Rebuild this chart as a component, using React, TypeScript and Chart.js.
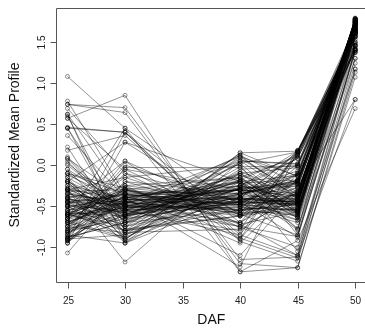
import { useEffect, useRef } from "react";
import { Chart, registerables } from "chart.js";

Chart.register(...registerables);

// Days after flowering at which the profiles were measured
const dafDays = [25, 30, 40, 45, 50];
const xTickValues = [25, 30, 35, 40, 45, 50];
const yTickValues = [-1.0, -0.5, 0.0, 0.5, 1.0, 1.5];
const yTickLabels = ["-1.0", "-0.5", "0.0", "0.5", "1.0", "1.5"];
const xTitle = "DAF";
const yTitle = "Standardized Mean Profile";

// Standardized profile value of each gene (row i across the arrays) at each DAF
const daf25 = [
  -0.45, -0.6, -0.3, -0.55, -0.65, -0.4, -0.2, -0.7, -0.48, -0.35,
  -0.55, -0.75, -0.25, -0.5, -0.62, -0.38, -0.8, -0.15, -0.45, -0.52,
  -0.68, -0.3, -0.58, -0.42, -0.85, -0.1, -0.5, -0.72, -0.35, -0.6,
  -0.28, -0.78, -0.45, -0.62, -0.05, -0.55, -0.9, -0.32, -0.48, -0.7,
  0.05, -0.9, -0.8, -0.2, -0.95, 0.0, -0.6, -0.85, -0.12, -0.7,
  -0.92, 0.08, -0.4, -0.75, -0.3, -0.82, -0.05, -0.65, -0.88, -0.25,
  -0.58, 0.02, -0.95, -0.45, -0.7, -0.15, -0.82, -0.35, -0.6, -0.1,
  -0.88, -0.5, -0.75, -0.22, -0.92, -0.4, 0.1, -0.65, -0.8, -0.3,
  0.45, -0.9, 0.6, -0.85, 0.36, -0.95, -0.6, 0.22, -0.78, 0.45,
  -0.3, -0.92, 0.18, -0.88, 0.08, -0.65, -0.5, 0.62, -1.07, -0.2,
  1.08, 0.78, 0.74, 0.57, 0.46, 0.69, 0.45, 0.62, 0.57, 0.74,
  -0.42, -0.5, -0.38, -0.46, -0.55, -0.33, -0.6, -0.44, -0.28, -0.66,
  -0.4, -0.58, -0.74, -0.2, -0.82, -0.1, -0.68, -0.9, -0.62, -0.18,
];
const daf30 = [
  -0.48, -0.5, -0.55, -0.4, -0.45, -0.6, -0.5, -0.38, -0.7, -0.45,
  -0.3, -0.5, -0.62, -0.55, -0.28, -0.42, -0.45, -0.55, -0.75, -0.35,
  -0.55, -0.4, -0.62, -0.5, -0.32, -0.55, -0.8, -0.38, -0.48, -0.25,
  -0.65, -0.6, -0.35, -0.52, -0.5, -0.72, -0.4, -0.3, -0.58, -0.42,
  -0.7, -0.85, 0.0, -0.9, -0.35, -0.55, -0.8, -0.2, -0.45, -0.9,
  -0.6, -0.65, -0.25, -0.05, -0.95, -0.48, -0.78, -0.3, -0.7, -0.4,
  -0.85, -0.5, -0.2, -0.62, -0.45, -0.92, -0.1, -0.55, -0.75, -0.35,
  -0.55, 0.05, -0.82, -0.68, -0.42, -0.8, -0.6, -0.3, -0.65, -0.15,
  -0.8, 0.4, -0.75, -0.95, -0.4, 0.28, -0.55, -0.85, 0.05, -0.62,
  -1.18, -0.45, 0.36, -0.7, -0.4, 0.45, -0.91, -0.38, -0.25, 0.28,
  0.45, -0.35, 0.64, 0.85, 0.4, -0.1, 0.4, -0.95, -0.05, 0.7,
  -0.45, -0.42, -0.52, -0.36, -0.46, -0.5, -0.33, -0.58, -0.46, -0.52,
  -0.66, -0.4, -0.3, -0.6, -0.62, -0.28, -0.88, -0.03, -0.15, -0.82,
];
const daf40 = [
  -0.4, -0.3, -0.45, -0.35, -0.25, -0.5, -0.52, -0.3, -0.35, -0.62,
  -0.55, -0.28, -0.4, -0.18, -0.4, -0.3, -0.3, -0.48, -0.28, -0.6,
  -0.12, -0.55, -0.35, -0.2, -0.35, -0.52, -0.32, -0.25, -0.7, -0.42,
  -0.15, -0.2, -0.48, -0.45, -0.55, -0.08, -0.22, -0.62, -0.3, -0.48,
  -0.55, 0.05, -0.45, -0.1, -0.3, -0.8, 0.1, -0.6, -0.3, -0.05,
  -0.1, -0.45, -0.9, -0.3, -0.4, 0.05, -0.62, -0.15, -0.18, -0.2,
  -0.28, -0.75, -0.35, 0.02, -0.58, -0.35, -0.45, -0.85, 0.08, -0.48,
  -0.25, -0.58, -0.02, -0.1, -0.4, -0.55, -0.4, -0.7, 0.12, -0.6,
  -0.62, -0.7, -0.45, 0.15, -1.1, -0.2, 0.12, -0.4, -0.9, -0.2,
  0.05, 0.1, -0.85, 0.02, -1.24, -0.5, 0.15, -0.75, -0.15, -0.6,
  -1.3, -0.95, -1.2, -1.3, -0.93, -0.76, -0.89, -0.2, -0.72, -1.15,
  -0.45, -0.42, -0.48, -0.5, -0.38, -0.44, -0.42, -0.3, -0.55, -0.36,
  -0.44, -0.16, -0.46, -0.25, -0.4, -0.72, -0.26, -0.03, 0.0, -0.78,
];
const daf45 = [
  -0.45, -0.38, -0.48, -0.47, -0.42, -0.27, -0.54, -0.38, -0.23, -0.34,
  -0.35, -0.22, -0.48, -0.52, -0.45, -0.64, -0.19, -0.56, -0.26, -0.27,
  -0.38, -0.48, -0.18, -0.61, -0.21, -0.55, -0.1, -0.37, -0.19, -0.45,
  -0.63, -0.13, -0.43, -0.12, -0.61, -0.35, -0.18, -0.46, -0.34, -0.1,
  -0.48, 0.02, -0.43, -0.47, -0.07, -0.32, -0.36, -0.01, -0.79, -0.01,
  -0.03, -0.63, -0.1, -0.55, 0.01, -0.39, -0.19, -0.54, 0.12, -0.78,
  0.08, -0.4, -0.12, -0.57, 0.11, -0.19, -0.24, 0.14, -0.33, -0.67,
  0.08, -0.57, -0.01, -0.58, 0.16, 0.18, -0.67, 0.12, -0.23, -0.51,
  -0.53, -0.3, -0.88, 0.17, -0.32, -0.59, -0.42, -0.42, 0.18, -1.05,
  0.01, -0.13, -1.1, 0.16, 0.17, -0.7, -0.14, -0.87, 0.1, -0.85,
  -0.92, -0.28, -1.25, -1.25, -1.17, -1.0, -1.13, -0.77, -1.1, -1.12,
  -0.47, -0.45, -0.4, -0.46, -0.38, -0.49, -0.4, -0.43, -0.45, -0.19,
  -0.22, -0.57, -0.2, -0.64, 0.15, -0.57, 0.17, -0.6, -0.85, 0.16,
];
const daf50 = [
  1.78, 1.78, 1.78, 1.77, 1.77, 1.77, 1.76, 1.76, 1.76, 1.76,
  1.75, 1.75, 1.75, 1.75, 1.75, 1.74, 1.74, 1.74, 1.74, 1.74,
  1.73, 1.73, 1.73, 1.73, 1.73, 1.72, 1.72, 1.72, 1.72, 1.72,
  1.71, 1.71, 1.71, 1.71, 1.71, 1.7, 1.7, 1.7, 1.7, 1.7,
  1.68, 1.68, 1.68, 1.67, 1.67, 1.67, 1.66, 1.66, 1.66, 1.66,
  1.65, 1.65, 1.65, 1.65, 1.64, 1.64, 1.64, 1.64, 1.64, 1.63,
  1.63, 1.63, 1.62, 1.62, 1.62, 1.61, 1.61, 1.61, 1.6, 1.6,
  1.6, 1.6, 1.6, 1.58, 1.58, 1.57, 1.57, 1.53, 1.56, 1.56,
  1.5, 1.5, 1.48, 1.48, 1.46, 1.46, 1.45, 1.45, 1.45, 1.42,
  1.42, 1.4, 1.41, 1.4, 1.39, 1.4, 1.4, 1.38, 1.37, 1.37,
  0.69, 0.8, 1.07, 1.13, 1.24, 1.17, 1.17, 1.3, 1.3, 0.8,
  1.79, 1.79, 1.78, 1.78, 1.77, 1.76, 1.75, 1.75, 1.74, 1.73,
  1.72, 1.71, 1.7, 1.69, 1.69, 1.67, 1.65, 1.56, 1.62, 1.62,
];

const FONT = '"Liberation Sans", Arial, Helvetica, sans-serif';

export default function App() {
  const canvasRef = useRef<HTMLCanvasElement | null>(null);

  useEffect(() => {
    const canvas = canvasRef.current;
    if (!canvas) return;
    const columns = [daf25, daf30, daf40, daf45, daf50];
    const datasets = daf25.map((_, i) => ({
      label: `gene ${i + 1}`,
      data: dafDays.map((d, j) => ({ x: d, y: columns[j][i] })),
      borderColor: "rgba(0,0,0,0.72)",
      borderWidth: 0.6,
      pointRadius: 2,
      pointBorderWidth: 0.6,
      pointBorderColor: "rgba(0,0,0,0.75)",
      pointBackgroundColor: "rgba(0,0,0,0)",
      pointStyle: "circle" as const,
      tension: 0,
      fill: false,
    }));

    const rAxes = {
      id: "rAxes",
      afterDraw(chart: any) {
        const { ctx, chartArea: a, scales } = chart;
        const xs = scales.x;
        const ys = scales.y;
        const L = Math.round(a.left) + 0.5;
        const T = Math.round(a.top) + 0.5;
        const B = Math.round(a.bottom) + 0.5;
        const R = Math.round(a.right) + 0.5;
        ctx.save();
        ctx.strokeStyle = "#555";
        ctx.lineWidth = 1;
        ctx.beginPath();
        ctx.moveTo(R, T);
        ctx.lineTo(L, T);
        ctx.lineTo(L, B);
        ctx.lineTo(R, B);
        ctx.stroke();

        // x ticks
        ctx.fillStyle = "#222";
        ctx.font = `10px ${FONT}`;
        ctx.textAlign = "center";
        ctx.textBaseline = "middle";
        xTickValues.forEach((v) => {
          const px = Math.round(xs.getPixelForValue(v)) + 0.5;
          ctx.beginPath();
          ctx.moveTo(px, B);
          ctx.lineTo(px, B + 6);
          ctx.stroke();
          ctx.fillText(String(v), px, B + 19);
        });

        // y ticks (labels parallel to the axis)
        yTickValues.forEach((v, i) => {
          const py = Math.round(ys.getPixelForValue(v)) + 0.5;
          ctx.beginPath();
          ctx.moveTo(L, py);
          ctx.lineTo(L - 6, py);
          ctx.stroke();
          ctx.save();
          ctx.translate(L - 14, py);
          ctx.rotate(-Math.PI / 2);
          ctx.fillText(yTickLabels[i], 0, 0);
          ctx.restore();
        });

        // axis titles
        ctx.font = `14px ${FONT}`;
        ctx.fillStyle = "#111";
        ctx.fillText(xTitle, (a.left + a.right) / 2, 320);
        ctx.save();
        ctx.translate(15, (a.top + a.bottom) / 2);
        ctx.rotate(-Math.PI / 2);
        ctx.fillText(yTitle, 0, 0);
        ctx.restore();
        ctx.restore();
      },
    };

    const chart = new Chart(canvas, {
      type: "line",
      data: { datasets },
      options: {
        responsive: false,
        animation: false,
        events: [],
        layout: { padding: { left: 56, top: 8, right: 5.3, bottom: 49 } },
        scales: {
          x: { type: "linear", min: 24, max: 51, display: false },
          y: { type: "linear", min: -1.424, max: 1.914, display: false },
        },
        plugins: { legend: { display: false }, tooltip: { enabled: false } },
      },
      plugins: [rAxes],
    });
    return () => chart.destroy();
  }, []);

  return (
    <div
      style={{
        position: "absolute",
        left: 0,
        top: 0,
        width: 365,
        height: 331,
        overflow: "hidden",
        background: "#fff",
      }}
    >
      <canvas ref={canvasRef} width={372} height={331} style={{ display: "block" }} />
    </div>
  );
}
